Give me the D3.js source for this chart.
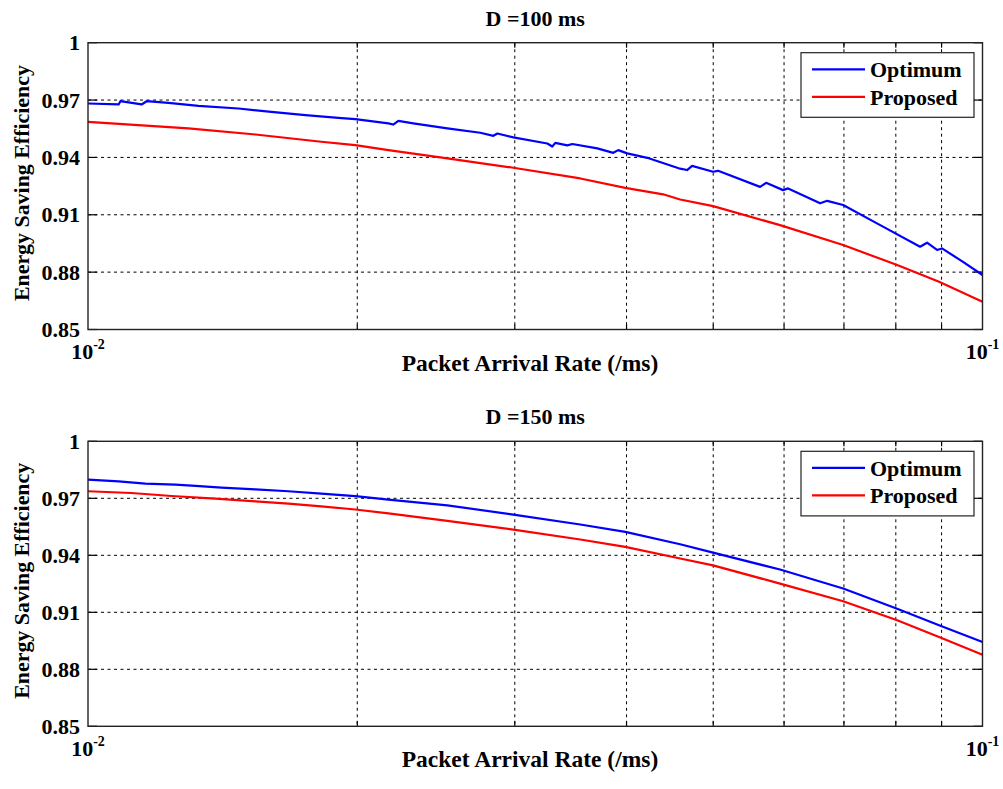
<!DOCTYPE html>
<html><head><meta charset="utf-8">
<script src="https://cdn.jsdelivr.net/npm/d3@7"></script>
<style>body{margin:0;background:#fff}text{font-family:"Liberation Serif","Times New Roman",serif;font-weight:bold;fill:#000}</style>
</head><body>
<svg id="c" width="1003" height="789"></svg>
<script>
// ---- data ----
const titles = ["D =100 ms", "D =150 ms"];
const seriesNames = ["Optimum", "Proposed"];
const yTicks = [0.85, 0.88, 0.91, 0.94, 0.97, 1];
const yTickLabels = ["0.85", "0.88", "0.91", "0.94", "0.97", "1"];
const xMajor = [0.01, 0.1];
const xMajorExp = ["-2", "-1"];
const xMinor = [0.02, 0.03, 0.04, 0.05, 0.06, 0.07, 0.08, 0.09];

// D = 100 ms
const top_optRate = [0.01,0.01082,0.01087,0.01148,0.01163,0.0123,0.01329,0.01473,0.01603,0.0175,0.01905,0.0199,0.02167,0.02194,0.02223,0.0231,0.02522,0.02745,0.02839,0.02869,0.02989,0.03262,0.03304,0.0333,0.03435,0.03479,0.0371,0.03866,0.03915,0.04007,0.04219,0.04592,0.04675,0.04735,0.04998,0.05063,0.05641,0.05729,0.05985,0.06063,0.06584,0.06705,0.06986,0.07685,0.08516,0.0867,0.08896,0.0901,0.09511,0.1];
const top_opt = [0.9682,0.9677,0.9694,0.9677,0.9694,0.9685,0.967,0.9656,0.9638,0.9621,0.9607,0.96,0.9578,0.9572,0.9591,0.9578,0.9552,0.9529,0.9513,0.9525,0.9505,0.9473,0.9457,0.9476,0.9463,0.947,0.9447,0.9424,0.9438,0.9421,0.9398,0.9341,0.9334,0.9356,0.9325,0.933,0.9246,0.9267,0.9229,0.9238,0.916,0.9173,0.9151,0.9046,0.8933,0.8954,0.8916,0.8924,0.8854,0.8785];
const top_propRate = [0.01,0.01295,0.01539,0.01823,0.0199,0.02167,0.02522,0.02989,0.03551,0.03987,0.04395,0.04592,0.04998,0.05938,0.06986,0.08028,0.08942,0.1];
const top_prop = [0.9586,0.9552,0.952,0.9482,0.9464,0.9438,0.9395,0.9346,0.929,0.9241,0.9207,0.918,0.9145,0.9046,0.8942,0.8837,0.875,0.8645];

// D = 150 ms
const bot_optRate = [0.01,0.01082,0.01159,0.01252,0.01319,0.0141,0.01539,0.01675,0.01823,0.0199,0.02167,0.02522,0.02989,0.03551,0.03987,0.04592,0.04998,0.05938,0.06986,0.08028,0.08942,0.1];
const bot_opt = [0.9798,0.9789,0.9777,0.9772,0.9765,0.9756,0.9747,0.9737,0.9725,0.9711,0.9693,0.9663,0.9614,0.9562,0.9523,0.9458,0.9414,0.9325,0.9225,0.9119,0.9032,0.8944];
const bot_propRate = [0.01,0.01118,0.0124,0.01388,0.01539,0.01675,0.01823,0.0199,0.02167,0.02522,0.02989,0.03551,0.03987,0.04592,0.04998,0.05938,0.06986,0.08028,0.08942,0.1];
const bot_prop = [0.9737,0.9728,0.9712,0.9698,0.9684,0.9672,0.9658,0.9641,0.9621,0.9581,0.9535,0.9483,0.9444,0.9383,0.9347,0.9251,0.9158,0.9058,0.897,0.8877];

const colors = ["#0000ff", "#ff0000"];

const svg = d3.select("#c");
const L = 88, R = 982.5;
const panels = [
  {top: 42.7, bottom: 329.5, title: titles[0], series: [[top_optRate, top_opt], [top_propRate, top_prop]]},
  {top: 441.3, bottom: 726.3, title: titles[1], series: [[bot_optRate, bot_opt], [bot_propRate, bot_prop]]}
];

panels.forEach(p => {
  const g = svg.append("g");
  const x = d3.scaleLog().domain([0.01, 0.1]).range([L, R]);
  const y = d3.scaleLinear().domain([0.85, 1]).range([p.bottom, p.top]);

  g.append("rect").attr("x", L).attr("y", p.top).attr("width", R - L).attr("height", p.bottom - p.top)
    .attr("fill", "#fff");

  // grid
  const dash = "3,3.5";
  g.selectAll(".gx").data(xMinor).enter().append("line")
    .attr("x1", d => x(d)).attr("x2", d => x(d)).attr("y1", p.top).attr("y2", p.bottom)
    .attr("stroke", "#000").attr("stroke-width", 1).attr("stroke-dasharray", dash);
  g.selectAll(".gy").data(yTicks.slice(1, -1)).enter().append("line")
    .attr("x1", L).attr("x2", R).attr("y1", d => y(d)).attr("y2", d => y(d))
    .attr("stroke", "#000").attr("stroke-width", 1).attr("stroke-dasharray", dash);

  // ticks (inside)
  yTicks.forEach(t => {
    g.append("line").attr("x1", L).attr("x2", L + 9).attr("y1", y(t)).attr("y2", y(t)).attr("stroke", "#000").attr("stroke-width", 1.2);
    g.append("line").attr("x1", R - 9).attr("x2", R).attr("y1", y(t)).attr("y2", y(t)).attr("stroke", "#000").attr("stroke-width", 1.2);
  });
  xMinor.forEach(t => {
    g.append("line").attr("x1", x(t)).attr("x2", x(t)).attr("y1", p.bottom).attr("y2", p.bottom - 5).attr("stroke", "#000").attr("stroke-width", 1.2);
    g.append("line").attr("x1", x(t)).attr("x2", x(t)).attr("y1", p.top).attr("y2", p.top + 5).attr("stroke", "#000").attr("stroke-width", 1.2);
  });

  // curves
  const line = d3.line().x(d => x(d[0])).y(d => y(d[1]));
  p.series.forEach((s, i) => {
    const pts = s[0].map((r, k) => [r, s[1][k]]);
    g.append("path").datum(pts).attr("d", line).attr("fill", "none")
      .attr("stroke", colors[i]).attr("stroke-width", 2.2).attr("stroke-linejoin", "round");
  });

  // box
  g.append("rect").attr("x", L).attr("y", p.top).attr("width", R - L).attr("height", p.bottom - p.top)
    .attr("fill", "none").attr("stroke", "#222").attr("stroke-width", 1.4);

  // y tick labels
  yTicks.forEach((t, i) => {
    g.append("text").attr("x", 80).attr("y", y(t)).attr("dy", "0.35em").attr("text-anchor", "end")
      .attr("font-size", 22).text(yTickLabels[i]);
  });
  // x tick labels
  xMajor.forEach((t, i) => {
    const tx = g.append("text").attr("x", x(t)).attr("y", p.bottom + 29.5).attr("text-anchor", "middle").attr("font-size", 22);
    tx.append("tspan").text("10");
    tx.append("tspan").attr("dy", -10).attr("font-size", 14).text(xMajorExp[i]);
  });

  // labels
  g.append("text").attr("x", 530).attr("y", p.bottom + 41).attr("text-anchor", "middle").attr("font-size", 23.5)
    .text("Packet Arrival Rate (/ms)");
  g.append("text").attr("x", (L + R) / 2).attr("y", p.top - 17).attr("text-anchor", "middle").attr("font-size", 22)
    .text(p.title);
  g.append("text").attr("transform", `translate(29,${(p.top + p.bottom) / 2 - 3}) rotate(-90)`)
    .attr("text-anchor", "middle").attr("font-size", 21)
    .attr("textLength", 236).attr("lengthAdjust", "spacingAndGlyphs").text("Energy Saving Efficiency");

  // legend
  const lx = 801, ly = p.top + 10, lw = 173, lh = 64.6;
  g.append("rect").attr("x", lx).attr("y", ly).attr("width", lw).attr("height", lh)
    .attr("fill", "#fff").attr("stroke", "#222").attr("stroke-width", 1.2);
  seriesNames.forEach((n, i) => {
    const yy = ly + 16.6 + i * 27.5;
    g.append("line").attr("x1", 812).attr("x2", 865).attr("y1", yy).attr("y2", yy)
      .attr("stroke", colors[i]).attr("stroke-width", 2.2);
    g.append("text").attr("x", 870).attr("y", yy).attr("dy", "0.35em").attr("font-size", 22).text(n);
  });
});
</script>
</body></html>
